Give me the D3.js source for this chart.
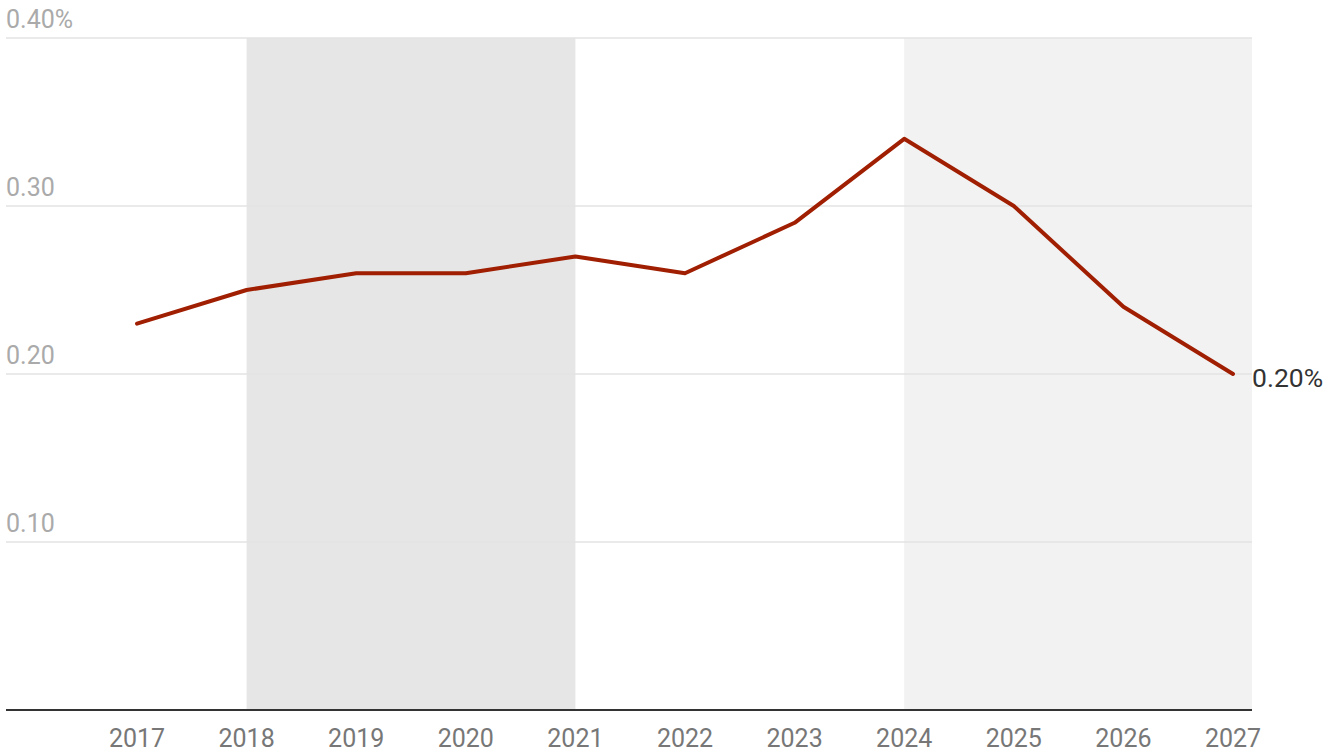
<!DOCTYPE html>
<html>
<head>
<meta charset="utf-8">
<script src="https://cdn.jsdelivr.net/npm/d3@7"></script>
<style>
  body { margin: 0; background: #fff; }
  svg { display: block; font-family: Roboto, "Noto Sans", sans-serif; }
</style>
</head>
<body>
<svg id="chart" width="1336" height="751"></svg>
<script>
// data
var years = [2017, 2018, 2019, 2020, 2021, 2022, 2023, 2024, 2025, 2026, 2027];
var rates = [0.23, 0.25, 0.26, 0.26, 0.27, 0.26, 0.29, 0.34, 0.30, 0.24, 0.20];
var yTicks = [0.1, 0.2, 0.3, 0.4];
var bands = [
  { from: 2018, to: 2021, fill: "#e6e6e6" },
  { from: 2024, to: null, fill: "#f2f2f2" }
];

var svg = d3.select("#chart");
var plotLeft = 6, plotRight = 1252, plotTop = 38, plotBottom = 710;

var x = d3.scaleLinear().domain([2017, 2027]).range([137, 1233]);
var y = d3.scaleLinear().domain([0, 0.4]).range([plotBottom, plotTop]);

// shaded periods
svg.append("g")
  .selectAll("rect")
  .data(bands)
  .enter()
  .append("rect")
  .attr("x", function(d) { return x(d.from); })
  .attr("y", plotTop)
  .attr("width", function(d) { return (d.to == null ? plotRight : x(d.to)) - x(d.from); })
  .attr("height", plotBottom - plotTop)
  .attr("fill", function(d) { return d.fill; });

// gridlines + y labels
var grid = svg.append("g").selectAll("g").data(yTicks).enter().append("g");
grid.append("line")
  .attr("x1", plotLeft).attr("x2", plotRight)
  .attr("y1", function(d) { return y(d); })
  .attr("y2", function(d) { return y(d); })
  .attr("stroke", "#e3e3e3")
  .attr("stroke-width", 1.5);
grid.append("text")
  .attr("x", plotLeft)
  .attr("y", function(d) { return y(d) - 10; })
  .attr("fill", "#aaaaaa")
  .attr("font-size", 25)
  .text(function(d, i) { return i === yTicks.length - 1 ? d3.format(".2f")(d) + "%" : d3.format(".2f")(d); });

// baseline
svg.append("line")
  .attr("x1", plotLeft).attr("x2", plotRight)
  .attr("y1", y(0)).attr("y2", y(0))
  .attr("stroke", "#333")
  .attr("stroke-width", 2);

// x axis labels
svg.append("g")
  .selectAll("text")
  .data(years)
  .enter()
  .append("text")
  .attr("x", function(d) { return x(d); })
  .attr("y", 747)
  .attr("text-anchor", "middle")
  .attr("fill", "#777")
  .attr("font-size", 25)
  .text(function(d) { return d; });

// line
var line = d3.line()
  .x(function(d, i) { return x(years[i]); })
  .y(function(d) { return y(d); });

svg.append("path")
  .datum(rates)
  .attr("d", line)
  .attr("fill", "none")
  .attr("stroke", "#a01f02")
  .attr("stroke-width", 4)
  .attr("stroke-linejoin", "round")
  .attr("stroke-linecap", "round");

// end label
var last = rates.length - 1;
svg.append("text")
  .attr("x", x(years[last]) + 19)
  .attr("y", y(rates[last]) + 13)
  .attr("fill", "#333")
  .attr("font-size", 26.5)
  .text(d3.format(".2f")(rates[last]) + "%");
</script>
</body>
</html>
